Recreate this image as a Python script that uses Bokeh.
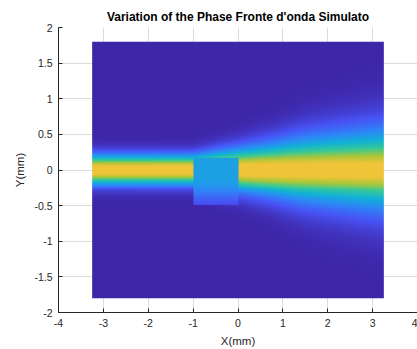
import numpy as np
from bokeh.plotting import figure
from bokeh.models import Range1d, LinearColorMapper, FixedTicker
from bokeh.embed import file_html
from bokeh.resources import INLINE

# ---- text / ticks ----
title_text = "Variation of the Phase Fronte d'onda Simulato"
x_label = "X(mm)"
y_label = "Y(mm)"
x_ticks = [-4, -3, -2, -1, 0, 1, 2, 3, 4]
x_tick_labels = ["-4", "-3", "-2", "-1", "0", "1", "2", "3", "4"]
y_ticks = [-2, -1.5, -1, -0.5, 0, 0.5, 1, 1.5, 2]
y_tick_labels = ["-2", "-1.5", "-1", "-0.5", "0", "0.5", "1", "1.5", "2"]

# ---- image extent (mm) ----
img_x = [-3.25, 3.25]
img_y = [-1.8, 1.8]

# ---- beam: half-width (mm) and profile exponent ----
beam_x = [-3.25, -1.0, 0.0, 0.7, 1.5, 3.25]
beam_w = [0.283, 0.285, 0.41, 0.50, 0.63, 0.80]
beam_n = [2.0, 2.0, 1.9, 1.8, 1.65, 1.55]
beam_peak = 0.83      # colour level of the beam core
beam_gain = 1.08      # core flattening

# ---- phase plate region ----
box_x = [-1.0, 0.0]
box_y = [-0.5, 0.17]
box_level = 0.37
box_fade_start = -0.1
box_fade_w = 0.53

# ---- parula-like palette anchors ----
parula_anchors = [
    (0.2422, 0.1504, 0.6603),
    (0.2810, 0.3228, 0.9579),
    (0.1786, 0.5289, 0.9682),
    (0.0689, 0.6948, 0.8394),
    (0.2161, 0.7843, 0.5923),
    (0.6720, 0.7793, 0.2227),
    (0.9970, 0.7659, 0.2199),
    (0.9769, 0.9839, 0.0805),
]


def build_palette(anchors, n=256):
    a = np.array(anchors)
    t = np.linspace(0, 1, len(a))
    tt = np.linspace(0, 1, n)
    cols = []
    for v in tt:
        rgb = [np.interp(v, t, a[:, k]) for k in range(3)]
        cols.append("#%02x%02x%02x" % tuple(int(round(c * 255)) for c in rgb))
    return cols


palette = build_palette(parula_anchors)

nx, ny = 300, 260
xs = np.linspace(img_x[0], img_x[1], nx)
ys = np.linspace(img_y[0], img_y[1], ny)
X, Y = np.meshgrid(xs, ys)
W = np.interp(X, beam_x, beam_w)
N = np.interp(X, beam_x, beam_n)
V = beam_peak * np.minimum(1.0, beam_gain * np.exp(-2 * (np.abs(Y) / W) ** N))
mask = (X >= box_x[0]) & (X <= box_x[1]) & (Y >= box_y[0]) & (Y <= box_y[1])
D = np.clip(box_fade_start - Y, 0, None)
Vb = box_level * np.exp(-2 * D ** 2 / box_fade_w ** 2)
V[mask] = Vb[mask]

mapper = LinearColorMapper(palette=palette, low=0, high=1)

p = figure(
    width=417, height=349,
    frame_width=359, frame_height=285,
    x_range=Range1d(-4, 4), y_range=Range1d(-2, 2),
    output_backend="svg", toolbar_location=None,
    min_border_left=58, min_border_right=0,
    min_border_top=27, min_border_bottom=37,
    title=title_text,
)
p.image(image=[V], x=img_x[0], y=img_y[0], dw=img_x[1] - img_x[0],
        dh=img_y[1] - img_y[0], color_mapper=mapper)

p.outline_line_color = None
p.background_fill_color = "white"
p.border_fill_color = "white"

p.title.align = "center"
p.title.text_font = "Liberation Sans"
p.title.text_font_size = "12px"
p.title.text_font_style = "bold"
p.title.text_color = "#000000"
p.title.standoff = 8

for ax, ticks, labels, lab in ((p.xaxis[0], x_ticks, x_tick_labels, x_label),
                               (p.yaxis[0], y_ticks, y_tick_labels, y_label)):
    ax.ticker = FixedTicker(ticks=ticks)
    ax.major_label_overrides = {t: l for t, l in zip(ticks, labels)}
    ax.minor_tick_line_color = None
    ax.major_tick_in = 4
    ax.major_tick_out = 0
    ax.axis_line_color = "#262626"
    ax.major_tick_line_color = "#262626"
    ax.major_label_text_color = "#262626"
    ax.major_label_text_font = "Liberation Sans"
    ax.major_label_text_font_size = "10.5px"
    ax.axis_label = lab
    ax.axis_label_text_font = "Liberation Sans"
    ax.axis_label_text_font_size = "11.5px"
    ax.axis_label_text_font_style = "normal"
    ax.axis_label_text_color = "#262626"
    ax.major_label_standoff = 6
    ax.axis_label_standoff = 5

p.xgrid.ticker = FixedTicker(ticks=x_ticks)
p.ygrid.ticker = FixedTicker(ticks=y_ticks)
for g in (p.xgrid[0], p.ygrid[0]):
    g.grid_line_color = "#dcdcdc"
    g.grid_line_width = 1

open("out.html", "w").write(file_html(p, INLINE))
